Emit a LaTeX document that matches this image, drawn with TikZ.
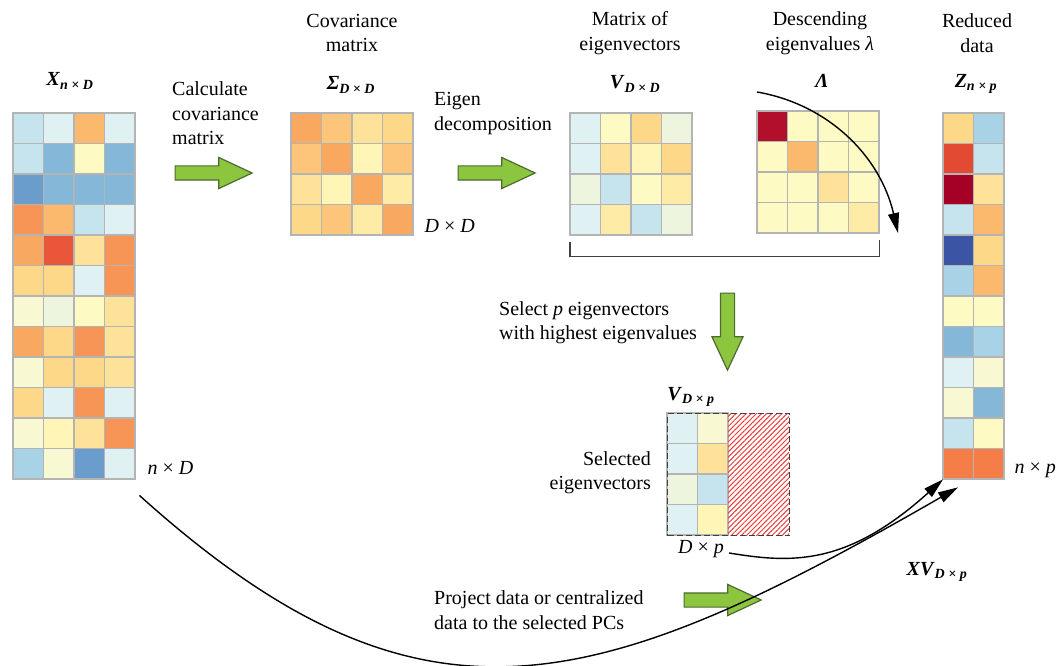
\documentclass[tikz,border=0pt]{standalone}
\usepackage{fontspec}
\setmainfont{Liberation Serif}
\usepackage{tikz}
\usetikzlibrary{positioning}
\usetikzlibrary{shapes.arrows}
\usetikzlibrary{arrows.meta}
\usetikzlibrary{patterns.meta}

% palette (red - yellow - blue)
\definecolor{dred}{HTML}{A50026}
\definecolor{lred}{HTML}{B2102A}
\definecolor{red1}{HTML}{E34A33}
\definecolor{red2}{HTML}{EA5639}
\definecolor{or1}{HTML}{F57E48}
\definecolor{or2}{HTML}{F69556}
\definecolor{or3}{HTML}{F9A860}
\definecolor{or4}{HTML}{FBB96D}
\definecolor{or5}{HTML}{FCC57A}
\definecolor{ye1}{HTML}{FDD888}
\definecolor{ye2}{HTML}{FEE29A}
\definecolor{ye3}{HTML}{FEEBA6}
\definecolor{ye4}{HTML}{FEF5B6}
\definecolor{ye5}{HTML}{FDFBC3}
\definecolor{ye6}{HTML}{F8F9D2}
\definecolor{gr1}{HTML}{EEF5DF}
\definecolor{bl1}{HTML}{E0F1F3}
\definecolor{bl2}{HTML}{C6E4EE}
\definecolor{bl3}{HTML}{A8D3E6}
\definecolor{bl4}{HTML}{85B8D8}
\definecolor{bl5}{HTML}{6A9DCB}
\definecolor{bl6}{HTML}{3B54A3}
\definecolor{cellgray}{HTML}{B4B4B4}
\definecolor{agreen}{HTML}{8CC63F}
\definecolor{agreendark}{HTML}{4D6B30}
\definecolor{hatchred}{HTML}{EE3B3B}

\def\cellsz{30.5}
% heat map: origin x, origin y, columns, colours (row by row)
\newcommand{\heatgrid}[4]{%
  \foreach \cc [count=\k from 0] in {#4}{%
    \pgfmathtruncatemacro{\hrow}{floor(\k/#3)}%
    \pgfmathtruncatemacro{\hcol}{\k-\hrow*#3}%
    \filldraw[cell, fill=\cc] ({#1+\hcol*\cellsz},{#2+\hrow*\cellsz}) rectangle ++(\cellsz,\cellsz);
  }}
\newcommand{\bmat}[2]{\textbf{\textit{#1}}\textsubscript{\textbf{\textit{#2}}}}

\begin{document}
\begin{tikzpicture}[
    x=1pt, y=-1pt,
    lbl/.style={font=\fontsize{20}{24.5}\selectfont, inner sep=1pt},
    cell/.style={draw=cellgray, line width=1.4pt},
    matbox/.style={inner sep=0pt, anchor=north west},
    garrow/.style={single arrow, draw=agreendark, fill=agreen, line width=1.2pt,
                   minimum height=77pt, inner sep=6.5pt,
                   single arrow head extend=8.5pt, single arrow tip angle=50},
    link/.style={-{Triangle[length=20pt,width=11pt]}, line width=1.4pt},
    >=Triangle
  ]
    \useasboundingbox (0,0) rectangle (1061,666);

    % Data matrix X
    \heatgrid{13}{113}{4}{bl2,bl1,or4,bl1, bl2,bl4,ye5,bl4, bl5,bl4,bl4,bl4,
      or2,or4,bl2,bl1, or3,red2,ye2,or2, ye1,ye1,bl1,or2, ye6,gr1,ye5,ye2,
      or3,ye1,or2,ye2, ye6,ye1,ye1,ye2, ye1,bl1,or2,bl1, ye6,ye4,ye2,or2,
      bl3,ye6,bl5,bl1}
    \node[matbox, minimum width=122pt, minimum height=366pt] (X) at (13,113) {};

    % Covariance matrix
    \heatgrid{291}{113}{4}{or3,or5,ye2,ye1, or5,or3,ye4,or5, ye2,ye4,or3,ye3,
      ye1,or5,ye3,or3}
    \node[matbox, minimum width=122pt, minimum height=122pt] (S) at (291,113) {};

    % Eigenvectors
    \heatgrid{570}{113}{4}{bl1,ye5,ye1,gr1, bl1,ye2,ye4,ye1, gr1,bl2,ye5,ye3,
      bl1,ye3,bl2,gr1}
    \node[matbox, minimum width=122pt, minimum height=122pt] (V) at (570,113) {};

    % Eigenvalues
    \heatgrid{757}{111}{4}{lred,ye5,ye5,ye5, ye5,or4,ye5,ye5, ye5,ye5,ye2,ye5,
      ye5,ye5,ye5,ye3}
    \node[matbox, minimum width=122pt, minimum height=122pt] (L) at (757,111) {};

    % Reduced data Z
    \heatgrid{943}{113}{2}{ye1,bl3, red1,bl2, dred,ye2, bl2,or4, bl6,ye1,
      bl3,or4, ye5,ye5, bl4,bl3, bl1,ye6, ye6,bl4, bl2,ye5, or1,or1}
    \node[matbox, minimum width=61pt, minimum height=366pt] (Z) at (943,113) {};

    % Selected eigenvectors
    \heatgrid{667}{413}{2}{bl1,ye6, bl1,ye2, gr1,bl2, bl1,ye4}
    \path[pattern={Lines[angle=45,distance=3.6pt,line width=1pt]}, pattern color=hatchred]
      (728,413) rectangle (789,535);
    \node[matbox, minimum width=122pt, minimum height=122pt, draw=black!75,
          dash pattern=on 6pt off 3pt, line width=1.3pt] (Vs) at (667,413) {};

    % Titles
    \node[lbl, align=center] (covT) at (352,33) {Covariance\\matrix};
    \node[lbl, align=center] (vecT) at (630,33) {Matrix of\\eigenvectors};
    \node[lbl, align=center] (valT) at (820,33) {Descending\\eigenvalues \textit{λ}};
    \node[lbl, align=center] (redT) at (977,33) {Reduced\\data};

    % Matrix names
    \node[lbl] (Xn) at (70,81) {\bmat{X}{n × D}};
    \node[lbl] (Sn) at (351,85) {\bmat{Σ}{D × D}};
    \node[lbl] (Vn) at (635,84) {\bmat{V}{D × D}};
    \node[lbl] (Ln) at (822,81) {\textbf{\textit{Λ}}};
    \node[lbl] (Zn) at (976,84) {\bmat{Z}{n × p}};
    \node[lbl] (Vsn) at (691,397) {\bmat{V}{D × p}};

    % Dimensions
    \node[lbl, right=11pt of X.south east, yshift=11pt] (Xd) {\textit{n} × \textit{D}};
    \node[lbl, right=10pt of S.south east, yshift=9pt] (Sd) {\textit{D} × \textit{D}};
    \node[lbl, right=9pt of Z.south east, yshift=9pt] (Zd) {\textit{n} × \textit{p}};
    \node[lbl] (Vsd) at (701,549) {\textit{D} × \textit{p}};

    % Steps
    \node[lbl, align=left, anchor=west] (calc) at (171,113.5) {Calculate\\covariance\\matrix};
    \node[lbl, align=left, anchor=west] (eig) at (433,113.5) {Eigen\\decomposition};
    \node[lbl, align=left, anchor=west] (sel) at (498,322.5) {Select \textit{p} eigenvectors\\with highest eigenvalues};
    \node[lbl, align=right, anchor=east] (selv) at (652,472.5) {Selected\\eigenvectors};
    \node[lbl, align=left, anchor=west] (proj) at (433,610) {Project data or centralized\\data to the selected PCs};
    \node[lbl] (XV) at (937,572) {\textbf{\textit{XV}}\textsubscript{\textbf{\textit{D × p}}}};

    % Green block arrows
    \node[garrow] (g1) at (206,173) {};
    \node[garrow] (g2) at (489,173) {};
    \node[garrow, shape border rotate=270] (g3) at (727.5,324) {};
    \node[garrow] (g4) at (715,600) {};

    % Bracket under V and Lambda
    \draw[black!75, line width=1.3pt] ([yshift=-7pt]V.south west) -- ([yshift=-21pt]V.south west)
      -| ([yshift=-7pt]L.south east);

    % Connectors
    \coordinate (sortA) at (757,92);
    \coordinate (sortB) at (898,233);
    \draw[link] (sortA) .. controls (827,104) and (880,155) .. (sortB);
    \draw[link] ([shift={(4,4)}]Vsd.east) .. controls (790,563) and (846,567) .. (Z.south west);
    \draw[link] ([shift={(4,16)}]X.south east) .. controls (421,749) and (594,697)
      .. ([shift={(15,8)}]Z.south west);
\end{tikzpicture}
\end{document}
